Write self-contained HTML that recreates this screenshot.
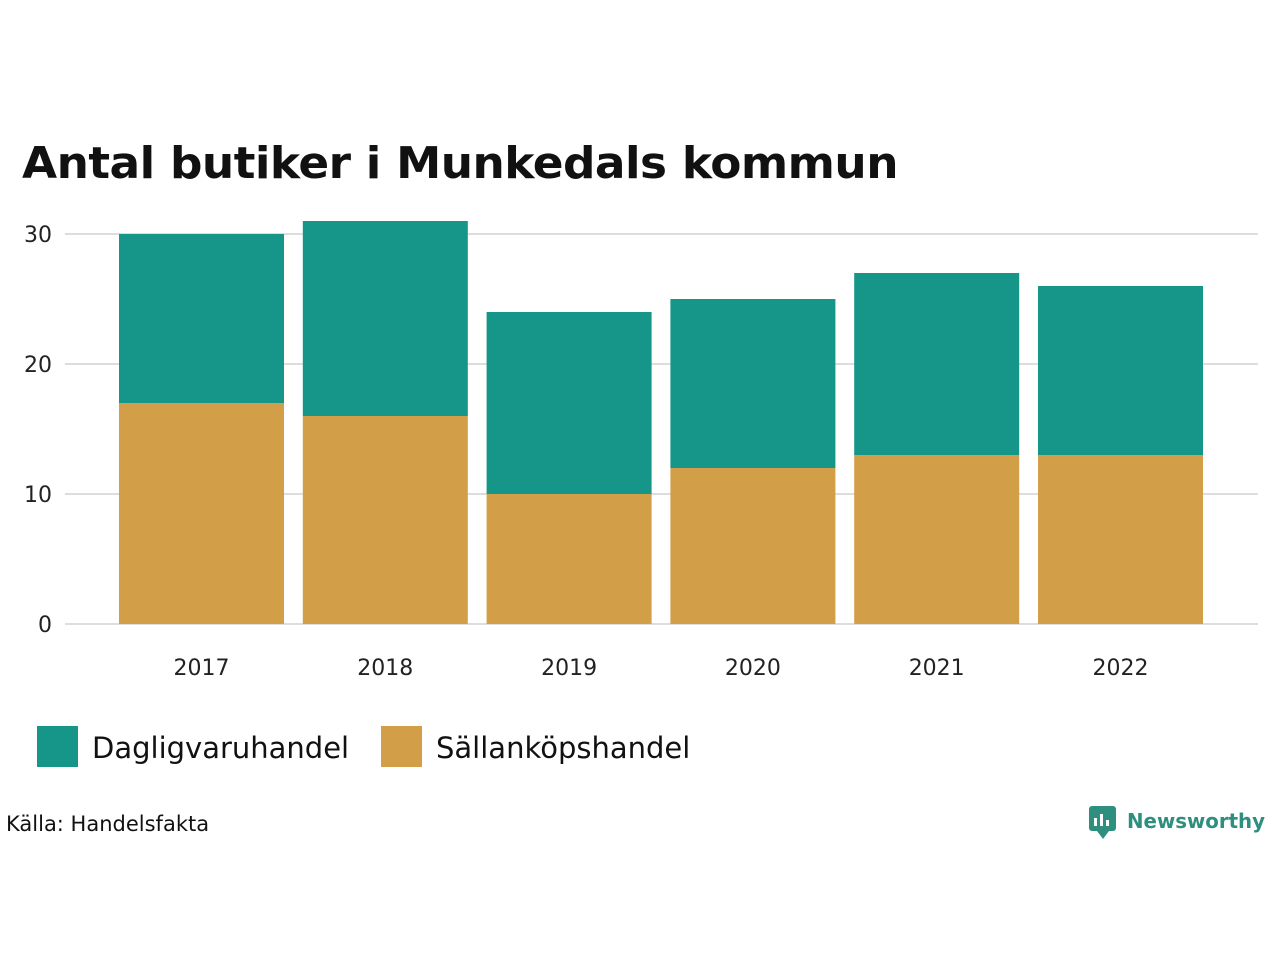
<!DOCTYPE html>
<html><head><meta charset="utf-8">
<style>
body{margin:0;background:#fff;font-family:"Liberation Sans","DejaVu Sans",sans-serif;}
#wrap{position:relative;width:1280px;height:960px;overflow:hidden;}
</style></head>
<body>
<div id="wrap">
<svg id="chart" width="1280" height="960">
<text x="22" y="178" font-size="44" font-weight="bold" fill="#111" font-family="'DejaVu Sans',sans-serif" letter-spacing="-0.5" textLength="876" lengthAdjust="spacingAndGlyphs">Antal butiker i Munkedals kommun</text>
<g id="grid"></g>
<g id="bars"></g>
<g id="xlabels"></g>
<rect x="37" y="726" width="41" height="41" fill="#159688"/>
<text x="92" y="758" font-size="29" fill="#111" font-family="'DejaVu Sans',sans-serif">Dagligvaruhandel</text>
<rect x="381" y="726" width="41" height="41" fill="#D39E48"/>
<text x="436" y="758" font-size="29" fill="#111" font-family="'DejaVu Sans',sans-serif">Sällanköpshandel</text>
<text x="6" y="831" font-size="21" fill="#111" font-family="'DejaVu Sans',sans-serif">Källa: Handelsfakta</text>
<g>
<rect x="1089" y="806" width="27" height="25" rx="3" fill="#2f8f7f"/>
<polygon points="1097,831 1103,839 1109,831" fill="#2f8f7f"/>
<rect x="1094" y="818" width="3" height="8" fill="#fff"/><rect x="1100" y="814" width="3" height="12" fill="#fff"/><rect x="1106" y="820" width="3" height="6" fill="#fff"/>
<text x="1127" y="828" font-size="20" font-weight="bold" fill="#2f8f7f" font-family="'DejaVu Sans',sans-serif" textLength="138" lengthAdjust="spacingAndGlyphs">Newsworthy</text>
</g>
</svg>
</div>
<script>
const years=["2017","2018","2019","2020","2021","2022"];
const sallan=[17,16,10,12,13,13];
const daglig=[13,15,14,13,14,13];
const yTicks=[0,10,20,30];
const NS="http://www.w3.org/2000/svg";
const y=v=>624-v*13;
const x0=119,step=183.8,bw=165;
const g=document.getElementById('grid'),b=document.getElementById('bars'),xl=document.getElementById('xlabels');
function mk(tag,attrs,parent){const e=document.createElementNS(NS,tag);for(const k in attrs)e.setAttribute(k,attrs[k]);parent.appendChild(e);return e;}
yTicks.forEach(t=>{
 const l=mk('line',{x1:65,x2:1258,y1:y(t),y2:y(t),stroke:'#dddddd','stroke-width':2},g);
 
 
 const tx=mk('text',{x:52,y:y(t)+8,'font-size':22,fill:'#222','text-anchor':'end','font-family':"'DejaVu Sans',sans-serif"},g);
 tx.textContent=t;
 
 
});
years.forEach((yr,i)=>{
 const x=x0+i*step;
 const r1=mk('rect',{x:x,y:y(sallan[i]),width:bw,height:sallan[i]*13,fill:'#D39E48'},b);
 
 
 const tot=sallan[i]+daglig[i];
 const r2=mk('rect',{x:x,y:y(tot),width:bw,height:daglig[i]*13,fill:'#159688'},b);
 
 
 const t=mk('text',{x:x+bw/2,y:675,'font-size':22,fill:'#222','text-anchor':'middle','font-family':"'DejaVu Sans',sans-serif"},xl);
 t.textContent=yr;
 
 
});
</script>
</body></html>
